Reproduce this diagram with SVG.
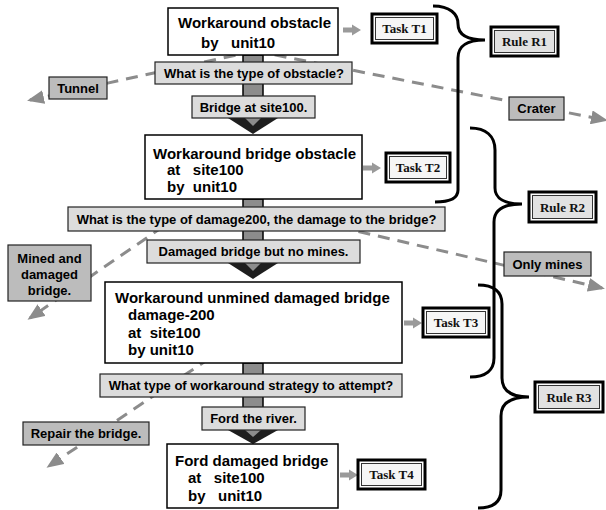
<svg xmlns="http://www.w3.org/2000/svg" width="606" height="510" viewBox="0 0 606 510">
<style>
.box{fill:#fff;stroke:#000;stroke-width:1.5}
.q{fill:#dcdcdc;stroke:#222;stroke-width:1.2}
.br{fill:#bcbcbc;stroke:#222;stroke-width:1.2}
.t{font-family:"Liberation Sans",Arial,sans-serif;font-weight:bold;fill:#000}
.n{font-size:15px;white-space:pre}
.s{font-size:13px;text-anchor:middle}
.tt{font-family:"Liberation Serif","Times New Roman",serif;font-weight:bold;font-size:13px;text-anchor:middle;fill:#111}
.dash{fill:none;stroke:#8c8c8c;stroke-width:3;stroke-dasharray:12 8}
.shaft{fill:#8c8c8c;stroke:#000;stroke-width:1.5}
.head{fill:#1e1e1e}
.headin{fill:#8c8c8c}
.ta{fill:#9a9a9a}
.o{fill:#fff;stroke:#000;stroke-width:3}
.ti{fill:#f6f6f6;stroke:#333;stroke-width:1}
.ri{fill:#e2e2e2;stroke:#333;stroke-width:1}
.brace{fill:none;stroke:#000;stroke-width:3}
</style>
<defs>
<marker id="ah" markerUnits="userSpaceOnUse" markerWidth="17" markerHeight="14" refX="14" refY="7" orient="auto">
<path d="M0,0 L17,7 L0,14 z" fill="#8c8c8c"/>
</marker>
</defs>
<g id="connectors">
<path class="dash" d="M255,51 L30,100" marker-end="url(#ah)"/>
<path class="dash" d="M255,51 L605,120" marker-end="url(#ah)"/>
<path class="dash" d="M180,215 L30,318" marker-end="url(#ah)"/>
<path class="dash" d="M300,218 L602,288" marker-end="url(#ah)"/>
<path class="dash" d="M210,358 L49,466" marker-end="url(#ah)"/>
<rect class="shaft" x="243" y="55" width="20" height="64"/>
<polygon class="head" points="228,118 278,118 253,134"/>
<polygon class="headin" points="245,118 261,118 253,126"/>
<rect class="shaft" x="243" y="199" width="20" height="65"/>
<polygon class="head" points="228,263 278,263 253,279"/>
<polygon class="headin" points="245,263 261,263 253,271"/>
<rect class="shaft" x="243" y="363" width="20" height="68"/>
<polygon class="head" points="228,430 278,430 253,444"/>
<polygon class="headin" points="245,430 261,430 253,437"/>
<polygon class="ta" points="343,27.5 352,27.5 352,24.5 361,30 352,35.5 352,32.5 343,32.5"/>
<polygon class="ta" points="363,165.5 372,165.5 372,162.5 381,168 372,173.5 372,170.5 363,170.5"/>
<polygon class="ta" points="404,320.5 413,320.5 413,317.5 422,323 413,328.5 413,325.5 404,325.5"/>
<polygon class="ta" points="340,472.5 349,472.5 349,469.5 358,475 349,480.5 349,477.5 340,477.5"/>
</g>
<g id="braces">
<path class="brace" d="M433,6 C450,6 458,14 458,24 C458,34 466,40 485,40 C466,40 458,46 458,58 L458,190 C458,198 450,202 435,202"/>
<path class="brace" d="M470,128 C486,128 495,136 495,150 L495,188 C495,198 504,204 522,204 C504,204 494,210 494,222 L494,358 C494,370 486,377 470,377"/>
<path class="brace" d="M478,285 C494,285 502,292 502,304 L502,378 C502,390 510,397 529,397 C510,397 501,404 501,416 L501,490 C501,502 494,508 478,508"/>
</g>
<g id="n1">
<rect class="box" x="168" y="8" width="170" height="47"/>
<text class="t n" x="178" y="28">Workaround obstacle</text>
<text class="t n" x="201" y="48" xml:space="preserve">by   unit10</text>
</g>
<g id="q1">
<rect class="q" x="155" y="62" width="197" height="22"/>
<text class="t s" x="254" y="78">What is the type of obstacle?</text>
</g>
<g id="a_tunnel">
<rect class="br" x="49" y="77" width="58" height="22"/>
<text class="t s" x="78" y="93">Tunnel</text>
</g>
<g id="a_crater">
<rect class="br" x="509" y="97" width="55" height="23"/>
<text class="t s" x="536.5" y="113">Crater</text>
</g>
<g id="a_bridge">
<rect class="q" x="192" y="96" width="123" height="22"/>
<text class="t s" x="253.5" y="112">Bridge at site100.</text>
</g>
<g id="n2">
<rect class="box" x="145" y="135" width="217" height="64"/>
<text class="t n" x="153" y="159">Workaround bridge obstacle</text>
<text class="t n" x="167" y="175" xml:space="preserve">at   site100</text>
<text class="t n" x="167" y="192" xml:space="preserve">by  unit10</text>
</g>
<g id="q2">
<rect class="q" x="68" y="207" width="377" height="24"/>
<text class="t s" x="256.5" y="224">What is the type of damage200, the damage to the bridge?</text>
</g>
<g id="a_mined">
<rect class="br" x="8" y="245" width="83" height="56"/>
<text class="t s" x="49.5" y="263">Mined and</text>
<text class="t s" x="49.5" y="279">damaged</text>
<text class="t s" x="49.5" y="295">bridge.</text>
</g>
<g id="a_onlymines">
<rect class="br" x="504" y="252" width="87" height="24"/>
<text class="t s" x="547.5" y="269">Only mines</text>
</g>
<g id="a_damaged">
<rect class="q" x="147" y="240" width="213" height="23"/>
<text class="t s" x="253.5" y="256">Damaged bridge but no mines.</text>
</g>
<g id="n3">
<rect class="box" x="105" y="282" width="297" height="81"/>
<text class="t n" x="115" y="303">Workaround unmined damaged bridge</text>
<text class="t n" x="128" y="320">damage-200</text>
<text class="t n" x="128" y="338" xml:space="preserve">at  site100</text>
<text class="t n" x="128" y="355">by unit10</text>
</g>
<g id="q3">
<rect class="q" x="100" y="374" width="302" height="23"/>
<text class="t s" x="251" y="390">What type of workaround strategy to attempt?</text>
</g>
<g id="a_repair">
<rect class="br" x="23" y="422" width="126" height="23"/>
<text class="t s" x="86" y="438">Repair the bridge.</text>
</g>
<g id="a_ford">
<rect class="q" x="202" y="407" width="103" height="23"/>
<text class="t s" x="253.5" y="423">Ford the river.</text>
</g>
<g id="n4">
<rect class="box" x="167" y="444" width="171" height="64"/>
<text class="t n" x="175" y="466">Ford damaged bridge</text>
<text class="t n" x="188" y="483" xml:space="preserve">at   site100</text>
<text class="t n" x="188" y="501" xml:space="preserve">by   unit10</text>
</g>
<g id="t1">
<rect class="o" x="372" y="14" width="65" height="29"/>
<rect class="ti" x="375.5" y="17.5" width="58" height="22"/>
<text class="tt" x="404.5" y="33">Task T1</text>
</g>
<g id="t2">
<rect class="o" x="386" y="153" width="64" height="29"/>
<rect class="ti" x="389.5" y="156.5" width="57" height="22"/>
<text class="tt" x="418" y="172">Task T2</text>
</g>
<g id="t3">
<rect class="o" x="423" y="308" width="66" height="29"/>
<rect class="ti" x="426.5" y="311.5" width="59" height="22"/>
<text class="tt" x="456" y="327">Task T3</text>
</g>
<g id="t4">
<rect class="o" x="358" y="460" width="67" height="29"/>
<rect class="ti" x="361.5" y="463.5" width="60" height="22"/>
<text class="tt" x="391.5" y="479">Task T4</text>
</g>
<g id="r1">
<rect class="o" x="491" y="27" width="67" height="29"/>
<rect class="ri" x="494.5" y="30.5" width="60" height="22"/>
<text class="tt" x="524.5" y="46">Rule R1</text>
</g>
<g id="r2">
<rect class="o" x="529" y="192" width="67" height="30"/>
<rect class="ri" x="532.5" y="195.5" width="60" height="23"/>
<text class="tt" x="562.5" y="212">Rule R2</text>
</g>
<g id="r3">
<rect class="o" x="535" y="382" width="68" height="30"/>
<rect class="ri" x="538.5" y="385.5" width="61" height="23"/>
<text class="tt" x="569" y="402">Rule R3</text>
</g>
</svg>
